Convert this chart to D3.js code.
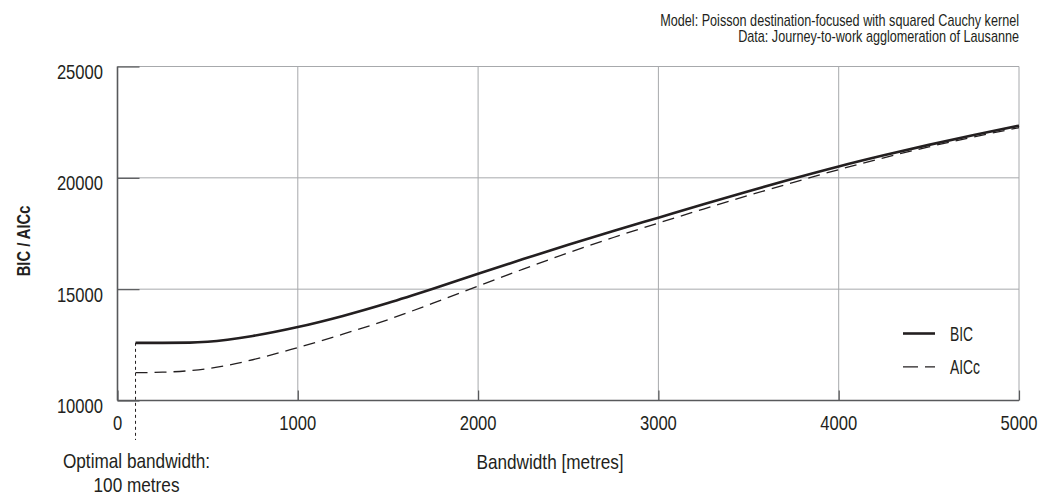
<!DOCTYPE html>
<html>
<head>
<meta charset="utf-8">
<script src="https://cdn.jsdelivr.net/npm/d3@7"></script>
<style>
  html, body { margin: 0; padding: 0; background: #fff; }
  svg { display: block; }
  text { font-family: "Liberation Sans", Arial, sans-serif; fill: #231f20; }
</style>
</head>
<body>
<svg id="chart" width="1040" height="495"></svg>
<script>
// Bandwidth (metres) at which the information criteria were evaluated
const bandwidth = [100, 250, 400, 500, 750, 1000, 1250, 1500, 1750, 2000, 2250, 2500,
                   2750, 3000, 3250, 3500, 3750, 4000, 4250, 4500, 4750, 5000];
// Bayesian information criterion
const bic = [12590, 12590, 12600, 12640, 12900, 13300, 13800, 14380, 15020, 15690, 16350, 16990,
             17610, 18210, 18810, 19400, 19970, 20510, 21010, 21480, 21920, 22340];
// Corrected Akaike information criterion
const aicc = [11250, 11270, 11340, 11430, 11830, 12380, 12980, 13630, 14370, 15140, 15900, 16630,
              17320, 17970, 18600, 19210, 19800, 20370, 20900, 21390, 21840, 22250];

const xTicks = [0, 1000, 2000, 3000, 4000, 5000];
const yTicks = [10000, 15000, 20000, 25000];
const optimalBandwidth = 100;
const seriesNames = ["BIC", "AICc"];
const noteLines = ["Model: Poisson destination-focused with squared Cauchy kernel",
                   "Data: Journey-to-work agglomeration of Lausanne"];

const svg = d3.select("#chart");
const plotLeft = 117.5, plotRight = 1019, plotTop = 66.5, plotBottom = 400.5;

const x = d3.scaleLinear().domain([0, 5000]).range([plotLeft, plotRight]);
const y = d3.scaleLinear().domain([10000, 25000]).range([plotBottom, plotTop]);

// condensed text: place at (tx, ty) and squeeze horizontally
function label(parent, tx, ty, str, size, squeeze, anchor, extra) {
  return parent.append("text")
    .attr("transform", `translate(${tx},${ty})${extra || ""} scale(${squeeze},1)`)
    .attr("text-anchor", anchor || "start")
    .attr("font-size", size)
    .text(str);
}

// grid
const grid = svg.append("g").attr("stroke", "#a7a9ac").attr("stroke-width", 1);
xTicks.filter(d => d > 0).forEach(d => {
  grid.append("line").attr("x1", x(d)).attr("x2", x(d)).attr("y1", plotTop).attr("y2", plotBottom);
});
yTicks.filter(d => d > 10000).forEach(d => {
  grid.append("line").attr("x1", plotLeft).attr("x2", plotRight).attr("y1", y(d)).attr("y2", y(d));
});

// axes with inward ticks
const xAxis = svg.append("g").attr("transform", `translate(0,${plotBottom})`)
  .call(d3.axisTop(x).tickValues(xTicks).tickSize(10).tickFormat(""));
xAxis.select(".domain").remove();
xAxis.selectAll(".tick line").attr("stroke", "#58595b").attr("stroke-width", 1.2);

const yAxis = svg.append("g").attr("transform", `translate(${plotLeft},0)`)
  .call(d3.axisRight(y).tickValues(yTicks).tickSize(22).tickFormat(""));
yAxis.select(".domain").remove();
yAxis.selectAll(".tick line").attr("stroke", "#58595b").attr("stroke-width", 1.2);

svg.append("line").attr("x1", plotLeft).attr("x2", plotRight).attr("y1", plotBottom).attr("y2", plotBottom)
  .attr("stroke", "#58595b").attr("stroke-width", 1.6);
svg.append("line").attr("x1", plotLeft).attr("x2", plotLeft).attr("y1", plotTop).attr("y2", plotBottom)
  .attr("stroke", "#58595b").attr("stroke-width", 1.6);

// tick labels
const labels = svg.append("g");
xTicks.forEach(d => label(labels, x(d), 430, d, 20, 0.83, "middle"));
yTicks.forEach(d => label(labels, 103, y(d) + 12.5, d, 20, 0.83, "end"));

// axis titles
label(labels, 550, 469, "Bandwidth [metres]", 20, 0.86, "middle");
label(labels, 30, 241, "BIC / AICc", 18, 0.82, "middle", " rotate(-90)")
  .attr("font-weight", "bold");

// note, top right
noteLines.forEach((t, i) => label(labels, plotRight, 26 + i * 16, t, 16, 0.79, "end"));

// optimal bandwidth marker
svg.append("line").attr("x1", x(optimalBandwidth)).attr("x2", x(optimalBandwidth))
  .attr("y1", y(bic[0])).attr("y2", 440)
  .attr("stroke", "#231f20").attr("stroke-width", 1).attr("stroke-dasharray", "3,3");
label(labels, 136.5, 468, "Optimal bandwidth:", 20, 0.86, "middle");
label(labels, 136.5, 492, `${optimalBandwidth} metres`, 20, 0.86, "middle");

// curves
const line = vals => d3.line()
  .x((d, i) => x(bandwidth[i])).y(d => y(d))
  .curve(d3.curveMonotoneX)(vals);

svg.append("path").attr("d", line(aicc)).attr("fill", "none")
  .attr("stroke", "#231f20").attr("stroke-width", 1.3).attr("stroke-dasharray", "12,7");
svg.append("path").attr("d", line(bic)).attr("fill", "none")
  .attr("stroke", "#231f20").attr("stroke-width", 2.6);

// legend
const legend = svg.append("g");
const styles = [{ w: 2.6, dash: null }, { w: 1.3, dash: "15,7" }];
seriesNames.forEach((name, i) => {
  const ly = 333.5 + i * 33.3;
  legend.append("line").attr("x1", 903).attr("x2", 935).attr("y1", ly).attr("y2", ly)
    .attr("stroke", "#231f20").attr("stroke-width", styles[i].w)
    .attr("stroke-dasharray", styles[i].dash);
  label(legend, 950, ly + 7.5, name, 21, 0.66, "start");
});
</script>
</body>
</html>
